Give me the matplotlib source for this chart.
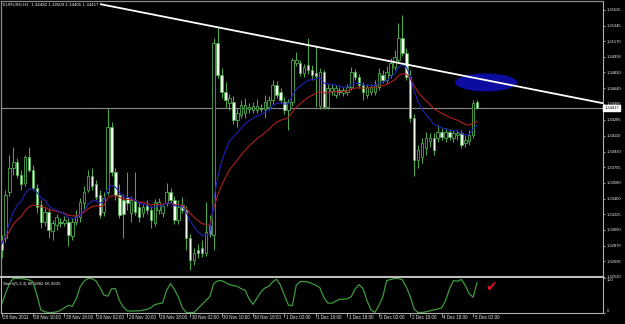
import matplotlib
matplotlib.use('Agg')
import matplotlib.pyplot as plt
from matplotlib.patches import Ellipse

plt.rcParams['font.family'] = ['Liberation Sans', 'DejaVu Sans']

# ---------------- data ----------------
opens = [1.3294, 1.3296, 1.3347, 1.3375, 1.3381, 1.3367, 1.3358, 1.3387, 1.3372, 1.3352,
         1.3333, 1.3314, 1.3325, 1.3304, 1.3311, 1.3314, 1.3313, 1.3314, 1.3298, 1.3314,
         1.3320, 1.3335, 1.3350, 1.3365, 1.3356, 1.3344, 1.3325, 1.3348, 1.3421, 1.3370,
         1.3344, 1.3339, 1.3342, 1.3324, 1.3339, 1.3331, 1.3324, 1.3333, 1.3327, 1.3313,
         1.3327, 1.3324, 1.3335, 1.3348, 1.3339, 1.3316, 1.3333, 1.3327, 1.3296, 1.3271,
         1.3282, 1.3285, 1.3279, 1.3309, 1.3299, 1.3515, 1.3479, 1.3460, 1.3448, 1.3449,
         1.3429, 1.3434, 1.3436, 1.3441, 1.3440, 1.3440, 1.3442, 1.3441, 1.3443, 1.3451,
         1.3468, 1.3460, 1.3449, 1.3440, 1.3449, 1.3493, 1.3493, 1.3481, 1.3490, 1.3485,
         1.3481, 1.3444, 1.3482, 1.3443, 1.3461, 1.3457, 1.3462, 1.3459, 1.3460, 1.3466,
         1.3482, 1.3477, 1.3468, 1.3457, 1.3460, 1.3460, 1.3466, 1.3479, 1.3474, 1.3479,
         1.3488, 1.3496, 1.3521, 1.3504, 1.3477, 1.3431, 1.3384, 1.3387, 1.3397, 1.3405,
         1.3408, 1.3408, 1.3415, 1.3408, 1.3415, 1.3408, 1.3412, 1.3414, 1.3403, 1.3405,
         1.3412, 1.34482]
highs = [1.3299, 1.3350, 1.3389, 1.3398, 1.3386, 1.3372, 1.3389, 1.3398, 1.3378, 1.3356,
         1.3339, 1.3330, 1.3330, 1.3316, 1.3323, 1.3318, 1.3321, 1.3318, 1.3318, 1.3327,
         1.3341, 1.3354, 1.3372, 1.3375, 1.3361, 1.3350, 1.3348, 1.3442, 1.3426, 1.3375,
         1.3356, 1.3345, 1.3370, 1.3343, 1.3370, 1.3335, 1.3334, 1.3339, 1.3332, 1.3340,
         1.3341, 1.3335, 1.3358, 1.3352, 1.3343, 1.3339, 1.3342, 1.3332, 1.3300, 1.3285,
         1.3289, 1.3294, 1.3336, 1.3322, 1.3521, 1.3533, 1.3487, 1.3471, 1.3458, 1.3456,
         1.3442, 1.3451, 1.3453, 1.3448, 1.3449, 1.3452, 1.3447, 1.3457, 1.3456, 1.3474,
         1.3472, 1.3465, 1.3454, 1.3452, 1.3498, 1.3505, 1.3496, 1.3492, 1.3521, 1.3490,
         1.3513, 1.3487, 1.3485, 1.3469, 1.3469, 1.3468, 1.3466, 1.3466, 1.3469, 1.3488,
         1.3486, 1.3480, 1.3471, 1.3469, 1.3469, 1.3474, 1.3487, 1.3485, 1.3489, 1.3498,
         1.3507, 1.3538, 1.3547, 1.3510, 1.3485, 1.3435, 1.3400, 1.3408, 1.3415, 1.3414,
         1.3414, 1.3423, 1.3420, 1.3420, 1.3418, 1.3417, 1.3417, 1.3417, 1.3412, 1.3417,
         1.3451, 1.34509]
lows = [1.3273, 1.3291, 1.3343, 1.3367, 1.3363, 1.3350, 1.3354, 1.3370, 1.3350, 1.3324,
        1.3307, 1.3309, 1.3296, 1.3294, 1.3305, 1.3308, 1.3309, 1.3287, 1.3294, 1.3311,
        1.3314, 1.3327, 1.3347, 1.3350, 1.3339, 1.3318, 1.3321, 1.3344, 1.3366, 1.3339,
        1.3318, 1.3296, 1.3327, 1.3314, 1.3322, 1.3314, 1.3320, 1.3323, 1.3307, 1.3309,
        1.3323, 1.3320, 1.3332, 1.3335, 1.3312, 1.3312, 1.3324, 1.3282, 1.3260, 1.3266,
        1.3273, 1.3275, 1.3276, 1.3297, 1.3282, 1.3476, 1.3453, 1.3442, 1.3440, 1.3424,
        1.3421, 1.3431, 1.3431, 1.3436, 1.3436, 1.3436, 1.3438, 1.3431, 1.3440, 1.3447,
        1.3453, 1.3448, 1.3435, 1.3417, 1.3444, 1.3489, 1.3478, 1.3477, 1.3480, 1.3474,
        1.3443, 1.3441, 1.3441, 1.3441, 1.3457, 1.3453, 1.3457, 1.3456, 1.3457, 1.3462,
        1.3474, 1.3465, 1.3451, 1.3453, 1.3457, 1.3457, 1.3462, 1.3470, 1.3470, 1.3476,
        1.3485, 1.3494, 1.3501, 1.3474, 1.3426, 1.3365, 1.3375, 1.3380, 1.3389, 1.3398,
        1.3389, 1.3404, 1.3406, 1.3404, 1.3406, 1.3404, 1.3406, 1.3397, 1.3398, 1.3400,
        1.3408, 1.34405]
closes = [1.3282, 1.3344, 1.3375, 1.3381, 1.3367, 1.3356, 1.3387, 1.3372, 1.3352, 1.3331,
          1.3314, 1.3325, 1.3305, 1.3313, 1.3320, 1.3313, 1.3316, 1.3299, 1.3314, 1.3321,
          1.3336, 1.3348, 1.3366, 1.3354, 1.3342, 1.3322, 1.3341, 1.3421, 1.3370, 1.3344,
          1.3322, 1.3323, 1.3335, 1.3339, 1.3325, 1.3320, 1.3331, 1.3327, 1.3316, 1.3336,
          1.3336, 1.3332, 1.3348, 1.3339, 1.3316, 1.3331, 1.3327, 1.3296, 1.3271, 1.3279,
          1.3279, 1.3279, 1.3303, 1.3300, 1.3515, 1.3479, 1.3460, 1.3451, 1.3453, 1.3429,
          1.3436, 1.3445, 1.3445, 1.3443, 1.3444, 1.3444, 1.3441, 1.3449, 1.3451, 1.3468,
          1.3457, 1.3451, 1.3440, 1.3449, 1.3496, 1.3496, 1.3481, 1.3488, 1.3485, 1.3479,
          1.3478, 1.3482, 1.3443, 1.3465, 1.3465, 1.3465, 1.3460, 1.3462, 1.3466, 1.3482,
          1.3477, 1.3468, 1.3460, 1.3466, 1.3466, 1.3468, 1.3481, 1.3474, 1.3482, 1.3493,
          1.3499, 1.3521, 1.3504, 1.3477, 1.3431, 1.3384, 1.3395, 1.3403, 1.3408, 1.3408,
          1.3395, 1.3415, 1.3409, 1.3415, 1.3409, 1.3414, 1.3414, 1.3400, 1.3406, 1.3412,
          1.3448, 1.34417]

stoch_main = [23, 55, 85, 100, 100, 100, 98, 96, 90, 52,
              8, 2, 0, 0, 2, 6, 14, 21, 18, 40,
              75, 92, 100, 100, 93, 75, 52, 48, 70, 70,
              35, 16, 5, 4, 5, 5, 7, 9, 14, 23,
              26, 28, 65, 85, 68, 45, 15, 0, 0, 0,
              12, 24, 35, 47, 85, 93, 94, 88, 82, 79,
              77, 70, 65, 40, 24, 42, 60, 72, 77, 90,
              98, 80, 50, 22, 20, 80, 91, 91, 90, 85,
              80, 73, 45, 28, 27, 33, 39, 39, 40, 47,
              70, 82, 70, 35, 8, 0, 20, 45, 94, 97,
              100, 100, 96, 75, 47, 10, 0, 0, 2, 5,
              8, 10, 14, 35, 70, 94, 92, 97, 80, 55,
              45, 88]

time_labels = ["28 Nov 2011", "28 Nov 10:00", "28 Nov 18:00", "29 Nov 02:00",
               "29 Nov 10:00", "29 Nov 18:00", "30 Nov 02:00", "30 Nov 10:00",
               "30 Nov 18:00", "1 Dec 02:00", "1 Dec 10:00", "1 Dec 18:00",
               "2 Dec 02:00", "2 Dec 10:00", "4 Dec 18:00", "5 Dec 02:00"]
label_bars = [0, 8, 16, 24, 32, 40, 48, 56, 64, 72, 80, 88, 96, 104, 112, 120]

price_ticks = [1.35525, 1.35345, 1.35170, 1.34995, 1.34820, 1.34640, 1.34465, 1.34285,
               1.34110, 1.33930, 1.33755, 1.33580, 1.33400, 1.33225, 1.33050, 1.32870,
               1.32695, 1.32520]
price_tick_labels = ["%.5f" % v for v in price_ticks]

title_text = "EURUSD,H1  1.34482 1.34509 1.34405 1.34417"
stoch_text = "Stoch(5,3,3) 88.1882 66.9635"
bid_price = 1.34417
bid_label = "1.34417"

trend_bars = [25.3, 153.0]
trend_prices = [1.35586, 1.34474]

ellipse_bar, ellipse_price = 123.3, 1.34707
ellipse_w_bars, ellipse_h_price = 15.8, 0.00202

check_bar, check_value = 124.6, 76

ema_fast_period = 10
ema_slow_period = 20
ema_seed = 1.3290


def ema(values, period, seed):
    a = 2.0 / (period + 1)
    out, prev = [], seed
    for v in values:
        prev = prev + a * (v - prev)
        out.append(prev)
    return out


ema_fast = ema(closes, ema_fast_period, ema_seed)
ema_slow = ema(closes, ema_slow_period, ema_seed + 0.0002)

# ---------------- styling ----------------
W, H = 625, 324
GREEN = '#4aaa4a'
BEAR_FILL = '#f3fbee'
AXIS = '#b0b0b0'
TXT = '#ececec'

fig = plt.figure(figsize=(W / 100, H / 100), dpi=100, facecolor='black')


def fx(px):
    return px / W


def fy(py):
    return 1 - py / H


ax = fig.add_axes([fx(1), fy(277), fx(602), (277 - 1) / H])
ax.set_facecolor('black')
n = len(closes)
xs = list(range(n))

ax.vlines(xs, lows, highs, color=GREEN, linewidth=0.75, zorder=1)
for i in xs:
    o, c = opens[i], closes[i]
    bottom = min(o, c)
    height = max(abs(c - o), 0.00004)
    fill = 'black' if c >= o else BEAR_FILL
    ax.bar(i, height, bottom=bottom, width=0.64, color=fill, edgecolor=GREEN,
           linewidth=0.6, zorder=2)

ax.plot(xs, ema_slow, color='#b02020', linewidth=0.8, zorder=3)
ax.plot(xs, ema_fast, color='#2020b8', linewidth=0.8, zorder=3)

ax.axhline(bid_price, color='#8a8a8a', linewidth=0.8, zorder=1.5)

ax.add_patch(Ellipse((ellipse_bar, ellipse_price), ellipse_w_bars, ellipse_h_price,
                     facecolor='#0c0ca0', edgecolor='none', zorder=4))
ax.plot(trend_bars, trend_prices, color='white', linewidth=1.3, zorder=5)

ax.set_xlim(-0.13, 153.05)
ax.set_ylim(1.35634 - 0.0001124 * 277, 1.35634 - 0.0001124 * 1)
ax.set_xticks([])
ax.yaxis.tick_right()
ax.set_yticks(price_ticks)
ax.set_yticklabels(price_tick_labels)
ax.tick_params(axis='y', length=1.6, width=0.6, color=AXIS, labelcolor=TXT,
               labelsize=3.0, pad=0.8)
for s in ['left', 'top']:
    ax.spines[s].set_color('#8c8c8c')
    ax.spines[s].set_linewidth(0.9)
ax.spines['right'].set_color(AXIS)
ax.spines['right'].set_linewidth(0.8)
ax.spines['bottom'].set_color('#bcbcbc')
ax.spines['bottom'].set_linewidth(1.5)

# stochastic panel
ax2 = fig.add_axes([fx(1), fy(313.3), fx(602), (313.3 - 277.5) / H])
ax2.set_facecolor('black')
ax2.plot(xs, stoch_main, color='#3c9a3c', linewidth=0.9)
ax2.set_xlim(-0.13, 153.05)
ax2.set_ylim(-2.35, 102.94)
ax2.yaxis.tick_right()
ax2.set_yticks([100, 0])
ax2.set_yticklabels(["100", "0"])
ax2.tick_params(axis='y', length=1.6, width=0.6, color=AXIS, labelcolor=TXT,
                labelsize=3.0, pad=1.2)
lbls = ax2.get_yticklabels()
lbls[0].set_va('top')
lbls[1].set_va('bottom')
ax2.set_xticks(label_bars)
ax2.set_xticklabels([])
ax2.tick_params(axis='x', length=3.0, width=0.6, color=AXIS, direction='out')
for b, t in zip(label_bars, time_labels):
    ax2.annotate(t, xy=(b, 0), xycoords=('data', 'axes fraction'),
                 xytext=(1.0, -1.2), textcoords='offset points',
                 ha='left', va='top', fontsize=3.25, color=TXT,
                 annotation_clip=False)
ax2.spines['top'].set_visible(False)
for s in ['left', 'right', 'bottom']:
    ax2.spines[s].set_color(AXIS)
    ax2.spines[s].set_linewidth(0.8)

ax2.text(check_bar, check_value, '\u2714', color='#e0141e', fontsize=10,
         ha='center', va='center', family='DejaVu Sans')

# texts
fig.text(fx(3), fy(4.5), title_text, ha='left', va='center', fontsize=3.15, color='#f0f0f0')
fig.text(fx(3), fy(283.5), stoch_text, ha='left', va='center', fontsize=3.2, color='#f0f0f0')
fig.text(fx(604.5), fy(107.8), bid_label, ha='left', va='center', fontsize=3.0, color='black',
         bbox=dict(boxstyle='square,pad=0.25', facecolor='white', edgecolor='white'))

fig.savefig('out.png', dpi=100, facecolor='black')
